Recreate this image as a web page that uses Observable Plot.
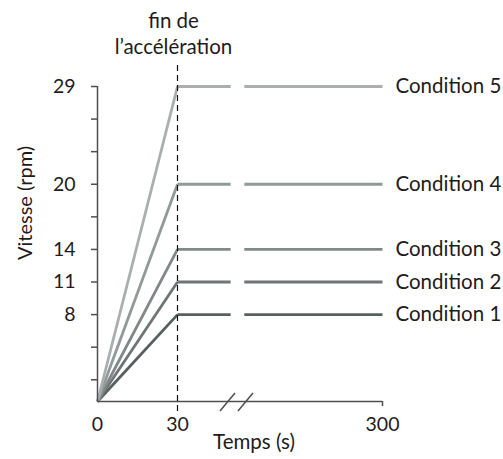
<!DOCTYPE html>
<html>
<head>
<meta charset="utf-8">
<script src="https://cdn.jsdelivr.net/npm/d3@7"></script>
<script src="https://cdn.jsdelivr.net/npm/@observablehq/plot@0.6"></script>
<style>
  html, body { margin: 0; padding: 0; background: #ffffff; }
  #chart svg { display: block; font-family: Lato, "Open Sans", sans-serif; }
</style>
</head>
<body>
<div id="chart"></div>
<script>
// ---- data ----
const conditions = ["Condition 1", "Condition 2", "Condition 3", "Condition 4", "Condition 5"];
const speeds = [8, 11, 14, 20, 29];            // rpm
const lineColors = ["#56605f", "#6d7575", "#808888", "#929999", "#aaaeae"];
const accelEnd = 30;                            // s, fin de l'accélération
const tEnd = 300;                               // s
const xTicks = [0, 30, 300];
const yTicks = [2, 5, 8, 11, 14, 17, 20, 23, 26, 29];
const yLabeled = [8, 11, 14, 20, 29];
const breakAt = 109;                            // axis break position (s)
const breakHalf = 9;                            // half-gap of the broken lines (s)

const rows = conditions.map((c, i) => ({cond: c, v: speeds[i], color: lineColors[i]}));
const axisColor = "#4f4f4f";
const textColor = "#1f1b1c";

const breakMarks = (index, scales, values, dimensions) => {
  const bx = scales.x(breakAt), by = scales.y(0);
  const g = d3.create("svg:g").attr("stroke", axisColor).attr("stroke-width", 1.5);
  [[-17, -2], [1, 16]].forEach(([a, b]) => {
    g.append("line").attr("x1", bx + a).attr("y1", by + 10).attr("x2", bx + b).attr("y2", by - 8);
  });
  return g.node();
};

const chart = Plot.plot({
  width: 503,
  height: 459,
  marginLeft: 97,
  marginRight: 121,
  marginTop: 86,
  marginBottom: 58,
  style: {background: "#ffffff", color: textColor, fontSize: "19.5px", fontFamily: "Lato, 'Open Sans', sans-serif"},
  x: {type: "linear", domain: [0, accelEnd, tEnd], range: [97, 177, 382]},
  y: {domain: [0, 29], range: [401, 86]},
  marks: [
    // ramps
    Plot.link(rows, {x1: () => 0, y1: () => 0, x2: () => accelEnd, y2: "v", stroke: "color", strokeWidth: 2.8}),
    // plateaus (broken)
    Plot.link(rows, {x1: () => accelEnd, y1: "v", x2: () => breakAt - breakHalf, y2: "v", stroke: "color", strokeWidth: 2.8}),
    Plot.link(rows, {x1: () => breakAt + breakHalf, y1: "v", x2: () => tEnd, y2: "v", stroke: "color", strokeWidth: 2.8}),
    // axes lines
    Plot.ruleX([0], {y1: 0, y2: 29, stroke: axisColor, strokeWidth: 1.5}),
    Plot.ruleY([0], {x1: 0, x2: tEnd, stroke: axisColor, strokeWidth: 1.5}),
    breakMarks,
    // end of acceleration
    Plot.ruleX([accelEnd], {stroke: "#111", strokeWidth: 1.2, strokeDasharray: "6,4", insetTop: -21, insetBottom: -12}),
    // y axis
    Plot.axisY({ticks: yTicks, tickSize: 6, tickPadding: 16, stroke: axisColor, strokeWidth: 1.5,
      tickFormat: d => yLabeled.includes(d) ? String(d) : "", label: null, fill: textColor, fontSize: 19.5}),
    // x axis
    Plot.axisX({ticks: xTicks, tickSize: 0, tickPadding: 16, label: null, fill: textColor, fontSize: 19.5}),
    Plot.axisX({ticks: [tEnd], tickSize: 5, stroke: axisColor, strokeWidth: 1.5, tickFormat: () => "", label: null}),
    // labels
    Plot.text(rows, {x: () => tEnd, y: "v", text: "cond", textAnchor: "start", dx: 13, fill: textColor, fontSize: 20.5}),
    Plot.text(["fin de\nl’accélération"], {x: () => accelEnd, y: () => 29, dx: -4, dy: -54, lineHeight: 1.25, fill: textColor, fontSize: 20.5}),
    Plot.text(["Vitesse (rpm)"], {frameAnchor: "left", rotate: -90, dx: -72, dy: 16, fill: textColor, fontSize: 20}),
    Plot.text(["Temps (s)"], {frameAnchor: "bottom", dx: 14, dy: 47, fill: textColor, fontSize: 20.5})
  ]
});
document.getElementById("chart").appendChild(chart);
</script>
</body>
</html>
